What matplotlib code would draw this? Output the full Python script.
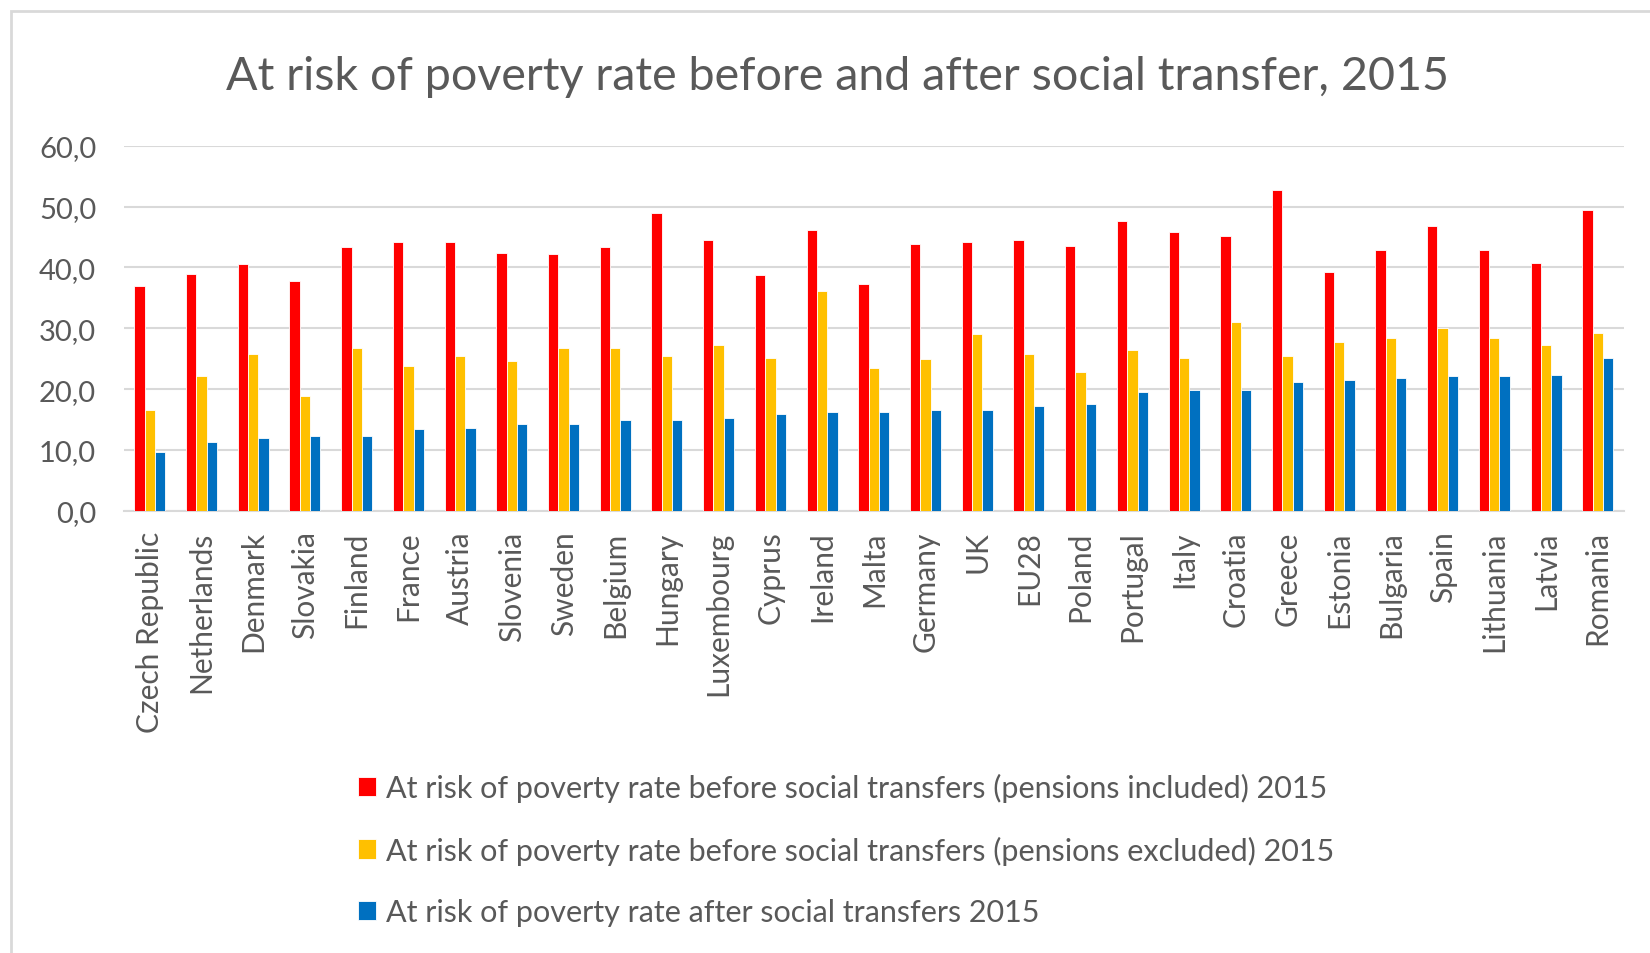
import matplotlib
matplotlib.use("Agg")
import matplotlib.pyplot as plt
import matplotlib.patches as patches
from matplotlib.ticker import FuncFormatter
import numpy as np

plt.rcParams["font.family"] = ["Lato", "DejaVu Sans"]

countries = ["Czech Republic", "Netherlands", "Denmark", "Slovakia", "Finland", "France",
             "Austria", "Slovenia", "Sweden", "Belgium", "Hungary", "Luxembourg", "Cyprus",
             "Ireland", "Malta", "Germany", "UK", "EU28", "Poland", "Portugal", "Italy",
             "Croatia", "Greece", "Estonia", "Bulgaria", "Spain", "Lithuania", "Latvia", "Romania"]

# before social transfers, pensions included
pens_incl = [37.0, 39.0, 40.5, 37.8, 43.3, 44.2, 44.2, 42.4, 42.2, 43.4, 49.0, 44.5, 38.8,
             46.2, 37.3, 43.9, 44.2, 44.5, 43.6, 47.7, 45.9, 45.1, 52.8, 39.3, 42.8, 46.8,
             42.8, 40.8, 49.4]
# before social transfers, pensions excluded
pens_excl = [16.6, 22.1, 25.8, 18.9, 26.7, 23.8, 25.5, 24.6, 26.7, 26.7, 25.5, 27.2, 25.2,
             36.1, 23.5, 24.9, 29.0, 25.8, 22.9, 26.4, 25.2, 31.0, 25.5, 27.8, 28.4, 30.1,
             28.4, 27.2, 29.2]
# after social transfers
after_st = [9.7, 11.4, 12.0, 12.3, 12.3, 13.4, 13.7, 14.3, 14.3, 14.9, 14.9, 15.2, 16.0,
            16.3, 16.3, 16.6, 16.6, 17.2, 17.5, 19.5, 19.8, 19.8, 21.2, 21.5, 21.8, 22.1,
            22.1, 22.3, 25.2]

labels = ["At risk of poverty rate before social transfers (pensions included) 2015",
          "At risk of poverty rate before social transfers (pensions excluded) 2015",
          "At risk of poverty rate after social transfers 2015"]
colors = ["#FF0000", "#FFC000", "#0070C0"]

grey = "#595959"

fig = plt.figure(figsize=(16.5, 9.54), dpi=100)
ax = fig.add_axes([124 / 1650, 1 - 511.9 / 954, (1623.6 - 124) / 1650, (511.9 - 146.7) / 954])

x = np.arange(len(countries))
w = 0.2
for i, (vals, c, lab) in enumerate(zip([pens_incl, pens_excl, after_st], colors, labels)):
    ax.bar(x + (i - 1) * w, vals, w, color=c, edgecolor="white", linewidth=0.6, label=lab, zorder=3)

ax.set_xlim(-0.5, len(countries) - 0.5)
ax.set_ylim(0, 60)
ax.set_yticks(range(0, 61, 10))
ax.yaxis.set_major_formatter(FuncFormatter(lambda v, p: f"{v:.1f}".replace(".", ",")))
ax.grid(axis="y", color="#d9d9d9", linewidth=1.5, zorder=0)
ax.set_xticks(x)
ax.set_xticklabels(countries, rotation=90, fontsize=21.5, color=grey)
ax.tick_params(axis="y", labelsize=21, labelcolor=grey, length=0, pad=20)
ax.tick_params(axis="x", length=0, pad=14)
for s in ["top", "right", "left"]:
    ax.spines[s].set_visible(False)
ax.spines["bottom"].set_color("#d9d9d9")
ax.spines["bottom"].set_linewidth(1.5)

fig.text(837 / 1650, 1 - 77 / 954, "At risk of poverty rate before and after social transfer, 2015",
         ha="center", va="center", fontsize=33.6, color=grey)

handles, labs = ax.get_legend_handles_labels()
fig.legend(handles, labs, loc="upper left", bbox_to_anchor=(358 / 1650, 1 - 774 / 954),
           frameon=False, fontsize=22, labelcolor=grey, handlelength=0.6, handleheight=0.6,
           handletextpad=0.3, labelspacing=1.1, borderaxespad=0, borderpad=0)

# outer chart frame (cut off at right and bottom like the source)
fig.patches.append(patches.Rectangle((11 / 1650, -0.1), 1.2, 1 - 12 / 954 + 0.1,
                                     transform=fig.transFigure, fill=False,
                                     edgecolor="#d9d9d9", linewidth=2))

fig.savefig("out.png", dpi=100)
